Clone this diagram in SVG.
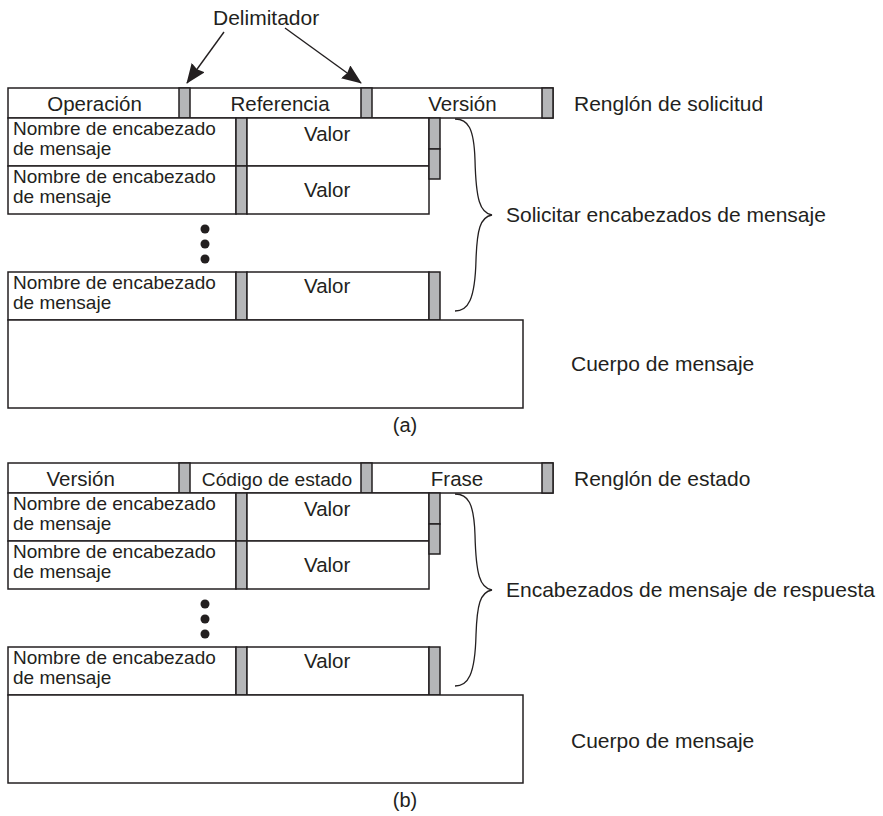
<svg xmlns="http://www.w3.org/2000/svg" width="883" height="816" viewBox="0 0 883 816">
  <style>
    .box { fill: #ffffff; stroke: #231f20; stroke-width: 1.5; }
    .delim { fill: #b5b6b8; stroke: #231f20; stroke-width: 1.5; }
    .t { font-family: "Liberation Sans", Arial, sans-serif; fill: #231f20; }
    .bar { font-size: 20.5px; text-anchor: middle; }
    .name { font-size: 19px; }
    .val { font-size: 20.5px; }
    .lbl { font-size: 21px; }
    .cap { font-size: 20px; text-anchor: middle; }
    .wire { fill: none; stroke: #231f20; stroke-width: 1.4; }
    .brace { fill: none; stroke: #231f20; stroke-width: 1.3; }
    .dot { fill: #231f20; }
  </style>
  <defs>
    <marker id="arrow" viewBox="0 0 20 16" refX="19" refY="8" markerWidth="20" markerHeight="16" markerUnits="userSpaceOnUse" orient="auto">
      <path d="M0,0 L20,8 L0,16 L2,8 z" fill="#231f20"/>
    </marker>
    <!-- one header line: name cell, delimiter, value cell -->
    <g id="hdr-row">
      <rect class="box" x="8" y="0" width="228" height="48"/>
      <rect class="delim" x="236" y="0" width="11" height="48"/>
      <rect class="box" x="247" y="0" width="182" height="48"/>
    </g>
  </defs>

  <!-- ===== (a) request message ===== -->
  <g id="request-line">
    <rect class="box" x="8" y="88" width="545" height="30"/>
    <rect class="delim" x="179" y="88" width="11" height="30"/>
    <rect class="delim" x="361" y="88" width="11" height="30"/>
    <rect class="delim" x="542" y="88" width="11" height="30"/>
    <text class="t bar" x="94.5" y="111">Operación</text>
    <text class="t bar" x="280" y="111">Referencia</text>
    <text class="t bar" x="462.5" y="111">Versión</text>
  </g>
  <g id="req-header-1">
    <use href="#hdr-row" y="118"/>
    <text class="t name" x="13" y="135">Nombre de encabezado</text>
    <text class="t name" x="13" y="155">de mensaje</text>
    <text class="t val" x="304" y="141">Valor</text>
  </g>
  <g id="req-header-2">
    <use href="#hdr-row" y="166"/>
    <text class="t name" x="13" y="183">Nombre de encabezado</text>
    <text class="t name" x="13" y="203">de mensaje</text>
    <text class="t val" x="304" y="197">Valor</text>
  </g>
  <g id="req-crlf">
    <rect class="delim" x="429" y="118" width="11" height="31"/>
    <rect class="delim" x="429" y="149" width="11" height="30"/>
  </g>
  <g id="req-ellipsis">
    <circle class="dot" cx="205" cy="229" r="4.5"/>
    <circle class="dot" cx="205" cy="244" r="4.5"/>
    <circle class="dot" cx="205" cy="259" r="4.5"/>
  </g>
  <g id="req-header-n">
    <use href="#hdr-row" y="272"/>
    <rect class="delim" x="429" y="272" width="11" height="48"/>
    <text class="t name" x="13" y="289">Nombre de encabezado</text>
    <text class="t name" x="13" y="309">de mensaje</text>
    <text class="t val" x="304" y="293">Valor</text>
  </g>
  <g id="req-body">
    <rect class="box" x="8" y="320" width="515" height="88"/>
  </g>
  <g id="req-labels">
    <text class="t lbl" x="213" y="25">Delimitador</text>
    <text class="t lbl" x="574" y="111">Renglón de solicitud</text>
    <text class="t lbl" x="506" y="222">Solicitar encabezados de mensaje</text>
    <text class="t lbl" x="571" y="371">Cuerpo de mensaje</text>
    <text class="t cap" x="405" y="432">(a)</text>
  </g>

  <!-- ===== (b) response message ===== -->
  <g id="status-line">
    <rect class="box" x="8" y="463" width="545" height="30"/>
    <rect class="delim" x="179" y="463" width="11" height="30"/>
    <rect class="delim" x="361" y="463" width="11" height="30"/>
    <rect class="delim" x="542" y="463" width="11" height="30"/>
    <text class="t bar" x="80.7" y="486">Versión</text>
    <text class="t bar" x="277" y="486" style="font-size:19.2px">Código de estado</text>
    <text class="t bar" x="457" y="486">Frase</text>
  </g>
  <g id="resp-header-1">
    <use href="#hdr-row" y="493"/>
    <text class="t name" x="13" y="510">Nombre de encabezado</text>
    <text class="t name" x="13" y="530">de mensaje</text>
    <text class="t val" x="304" y="516">Valor</text>
  </g>
  <g id="resp-header-2">
    <use href="#hdr-row" y="541"/>
    <text class="t name" x="13" y="558">Nombre de encabezado</text>
    <text class="t name" x="13" y="578">de mensaje</text>
    <text class="t val" x="304" y="572">Valor</text>
  </g>
  <g id="resp-crlf">
    <rect class="delim" x="429" y="493" width="11" height="31"/>
    <rect class="delim" x="429" y="524" width="11" height="30"/>
  </g>
  <g id="resp-ellipsis">
    <circle class="dot" cx="205" cy="604" r="4.5"/>
    <circle class="dot" cx="205" cy="619" r="4.5"/>
    <circle class="dot" cx="205" cy="634" r="4.5"/>
  </g>
  <g id="resp-header-n">
    <use href="#hdr-row" y="647"/>
    <rect class="delim" x="429" y="647" width="11" height="48"/>
    <text class="t name" x="13" y="664">Nombre de encabezado</text>
    <text class="t name" x="13" y="684">de mensaje</text>
    <text class="t val" x="304" y="668">Valor</text>
  </g>
  <g id="resp-body">
    <rect class="box" x="8" y="695" width="515" height="88"/>
  </g>
  <g id="resp-labels">
    <text class="t lbl" x="574" y="486">Renglón de estado</text>
    <text class="t lbl" x="506" y="597">Encabezados de mensaje de respuesta</text>
    <text class="t lbl" x="571" y="748">Cuerpo de mensaje</text>
    <text class="t cap" x="405" y="807">(b)</text>
  </g>

  <!-- ===== connectors: delimiter arrows and braces ===== -->
  <g id="connectors">
    <line class="wire" x1="224" y1="32" x2="187" y2="83" marker-end="url(#arrow)"/>
    <line class="wire" x1="285" y1="28" x2="361" y2="83" marker-end="url(#arrow)"/>
    <path class="brace" d="M455,119 C468,119 474,128 475,160 C476,200 480,213 492,215 C480,217 477,230 476,260 C475,300 468,311 455,311"/>
    <path class="brace" d="M455,494 C468,494 474,503 475,535 C476,575 480,588 492,590 C480,592 477,605 476,635 C475,675 468,686 455,686"/>
  </g>
</svg>
